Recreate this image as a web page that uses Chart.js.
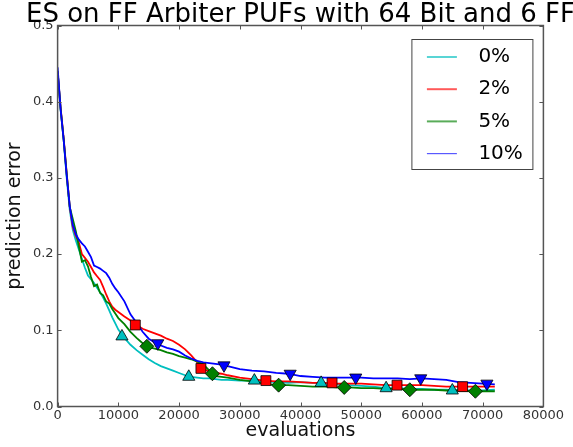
<!DOCTYPE html>
<html>
<head>
<meta charset="utf-8">
<title>ES on FF Arbiter PUFs</title>
<script src="https://cdn.jsdelivr.net/npm/chart.js@4.4.0/dist/chart.umd.min.js"></script>
<style>
  html, body { margin: 0; padding: 0; background: #fff; }
  #wrap { width: 573px; height: 447px; }
</style>
</head>
<body>
<div id="wrap"><canvas id="pufChart" width="573" height="447"></canvas></div>
<script>
// evaluations (x) shared by all four curves
const evaluations = [
    0, 500, 1000, 1500, 2000, 2500, 3000, 3500, 4000, 4500, 5000, 5500, 6000, 6500, 7000, 7500, 8000, 8500, 9000, 9500, 10000,
    11000, 12000, 13000, 14000, 15000, 16000, 17000, 18000, 19000, 20000, 21000, 22000, 23000, 24000, 25000, 26000, 27000, 28000,
    30000, 32000, 34000, 36000, 38000, 40000, 42000, 44000, 46000, 48000, 50000, 52000, 54000, 56000, 58000, 60000, 62000, 64000, 66000, 68000, 70000, 72000
];

const seriesLabels = ['0%', '2%', '5%', '10%'];
const chartTitle = 'ES on FF Arbiter PUFs with 64 Bit and 6 FF';

// prediction error per noise level
const error0 = [
    0.440, 0.390, 0.350, 0.300, 0.258, 0.232, 0.218, 0.206, 0.194, 0.182, 0.172, 0.167, 0.162, 0.156, 0.150, 0.143, 0.135, 0.126, 0.117, 0.109, 0.101,
    0.090, 0.081, 0.074, 0.068, 0.062, 0.057, 0.053, 0.050, 0.047, 0.044, 0.041, 0.039, 0.038, 0.037, 0.037, 0.036, 0.035, 0.035,
    0.034, 0.034, 0.033, 0.032, 0.031, 0.032, 0.031, 0.030, 0.029, 0.028, 0.027, 0.026, 0.024, 0.024, 0.023, 0.023, 0.022, 0.022, 0.021, 0.021, 0.021, 0.022
];
const error2 = [
    0.440, 0.392, 0.352, 0.306, 0.262, 0.236, 0.224, 0.215, 0.200, 0.195, 0.190, 0.183, 0.176, 0.171, 0.166, 0.157, 0.147, 0.138, 0.131, 0.127, 0.124,
    0.118, 0.113, 0.107, 0.102, 0.099, 0.096, 0.093, 0.089, 0.086, 0.081, 0.075, 0.067, 0.058, 0.049, 0.046, 0.044, 0.043, 0.041,
    0.038, 0.036, 0.034, 0.033, 0.033, 0.032, 0.031, 0.031, 0.030, 0.030, 0.030, 0.029, 0.028, 0.028, 0.028, 0.028, 0.027, 0.026, 0.026, 0.026, 0.026, 0.026
];
const error5 = [
    0.440, 0.390, 0.350, 0.305, 0.262, 0.246, 0.230, 0.210, 0.190, 0.192, 0.184, 0.170, 0.158, 0.160, 0.149, 0.146, 0.138, 0.135, 0.128, 0.122, 0.116,
    0.108, 0.098, 0.090, 0.083, 0.078, 0.076, 0.074, 0.071, 0.069, 0.066, 0.064, 0.062, 0.059, 0.055, 0.047, 0.040, 0.039, 0.038,
    0.035, 0.033, 0.030, 0.028, 0.028, 0.027, 0.026, 0.026, 0.025, 0.025, 0.024, 0.024, 0.023, 0.023, 0.022, 0.022, 0.022, 0.021, 0.021, 0.020, 0.020, 0.020
];
const error10 = [
    0.445, 0.390, 0.350, 0.303, 0.263, 0.238, 0.226, 0.219, 0.214, 0.210, 0.203, 0.196, 0.185, 0.183, 0.181, 0.178, 0.175, 0.169, 0.161, 0.155, 0.150,
    0.138, 0.121, 0.110, 0.098, 0.089, 0.084, 0.080, 0.077, 0.075, 0.072, 0.067, 0.063, 0.060, 0.058, 0.057, 0.056, 0.055, 0.053,
    0.049, 0.047, 0.046, 0.044, 0.043, 0.040, 0.039, 0.038, 0.038, 0.038, 0.038, 0.037, 0.037, 0.037, 0.036, 0.037, 0.036, 0.035, 0.032, 0.031, 0.030, 0.029
];

// marker positions (every ~10800 evaluations, shifted per curve)
const marks0X = [10600, 21600, 32400, 43400, 54100, 65000];
const marks0Y = [0.092, 0.039, 0.034, 0.031, 0.024, 0.021];
const marks2X = [12800, 23600, 34300, 45200, 55900, 66700];
const marks2Y = [0.107, 0.050, 0.034, 0.031, 0.028, 0.026];
const marks5X = [14700, 25500, 36400, 47200, 58000, 68800];
const marks5Y = [0.079, 0.043, 0.028, 0.025, 0.022, 0.020];
const marks10X = [16500, 27400, 38300, 49100, 59800, 70700];
const marks10Y = [0.083, 0.054, 0.043, 0.038, 0.037, 0.030];

const xTicks = [0, 10000, 20000, 30000, 40000, 50000, 60000, 70000, 80000];
const yTicks = [0.0, 0.1, 0.2, 0.3, 0.4, 0.5];

const colors = ['#00bfbf', '#ff0000', '#008000', '#0000ff'];
const FONT = "'DejaVu Sans', 'Liberation Sans', sans-serif";

function toPoints(xs, ys) {
    return xs.map((x, i) => ({ x: x, y: ys[i] }));
}

function lineSet(label, ys, color, order) {
    return {
        label: label,
        data: toPoints(evaluations, ys),
        borderColor: color,
        backgroundColor: color,
        borderWidth: 1.8,
        pointRadius: 0,
        tension: 0,
        fill: false,
        order: order
    };
}

function markerSet(xs, ys, color, style, radius, rotation, order) {
    return {
        type: 'scatter',
        label: 'markers',
        data: toPoints(xs, ys),
        showLine: false,
        pointStyle: style,
        pointRotation: rotation,
        pointRadius: radius,
        pointHoverRadius: radius,
        pointBackgroundColor: color,
        pointBorderColor: '#000',
        pointBorderWidth: 0.8,
        order: order
    };
}

// title centred over the axes (matplotlib style), not over the canvas
const titlePlugin = {
    id: 'axesTitle',
    afterDraw(chart) {
        const { ctx, chartArea: a } = chart;
        ctx.save();
        ctx.font = '26px ' + FONT;
        ctx.fillStyle = '#000';
        ctx.textAlign = 'center';
        ctx.textBaseline = 'alphabetic';
        ctx.fillText(chartTitle, (a.left + a.right) / 2, 22);
        ctx.restore();
    }
};

// box around the axes with inward ticks on all four sides
const framePlugin = {
    id: 'frame',
    afterDatasetsDraw(chart) {
        const { ctx, chartArea: a, scales: { x, y } } = chart;
        ctx.save();
        ctx.strokeStyle = '#555';
        ctx.lineWidth = 1.5;
        ctx.strokeRect(a.left, a.top, a.right - a.left, a.bottom - a.top);
        ctx.lineWidth = 1;
        ctx.beginPath();
        xTicks.forEach(v => {
            const px = Math.round(x.getPixelForValue(v)) + 0.5;
            ctx.moveTo(px, a.bottom); ctx.lineTo(px, a.bottom - 4);
            ctx.moveTo(px, a.top); ctx.lineTo(px, a.top + 4);
        });
        yTicks.forEach(v => {
            const py = Math.round(y.getPixelForValue(v)) + 0.5;
            ctx.moveTo(a.left, py); ctx.lineTo(a.left + 4, py);
            ctx.moveTo(a.right, py); ctx.lineTo(a.right - 4, py);
        });
        ctx.stroke();
        ctx.restore();
    }
};

// legend box in the upper right corner, like matplotlib
const legendPlugin = {
    id: 'boxLegend',
    afterDraw(chart) {
        const ctx = chart.ctx;
        const a = chart.chartArea;
        const boxRight = a.right - 11;
        const boxLeft = boxRight - 121;
        const boxTop = a.top + 13.5;
        const rowH = 32.2;
        ctx.save();
        ctx.fillStyle = '#fff';
        ctx.strokeStyle = '#444';
        ctx.lineWidth = 1;
        ctx.fillRect(boxLeft, boxTop, 121, 130);
        ctx.strokeRect(boxLeft + 0.5, boxTop + 0.5, 121, 130);
        ctx.font = '20px ' + FONT;
        ctx.textBaseline = 'middle';
        ctx.textAlign = 'left';
        seriesLabels.forEach((lbl, i) => {
            const yy = boxTop + 18 + i * rowH;
            ctx.globalAlpha = 0.65;
            ctx.strokeStyle = colors[i];
            ctx.lineWidth = i === 3 ? 1.2 : 2;
            ctx.beginPath();
            ctx.moveTo(boxLeft + 15.5, yy);
            ctx.lineTo(boxLeft + 45.5, yy);
            ctx.stroke();
            ctx.globalAlpha = 1;
            ctx.fillStyle = '#000';
            ctx.fillText(lbl, boxLeft + 67, yy);
        });
        ctx.restore();
    }
};

const ctx = document.getElementById('pufChart').getContext('2d');

const pufChart = new Chart(ctx, {
    type: 'line',
    data: {
        datasets: [
            lineSet(seriesLabels[0], error0, colors[0], 8),
            lineSet(seriesLabels[1], error2, colors[1], 7),
            lineSet(seriesLabels[2], error5, colors[2], 6),
            lineSet(seriesLabels[3], error10, colors[3], 5),
            markerSet(marks0X, marks0Y, colors[0], 'triangle', 7, 0, 4),
            markerSet(marks2X, marks2Y, colors[1], 'rect', 7, 0, 3),
            markerSet(marks5X, marks5Y, colors[2], 'rectRot', 7, 0, 2),
            markerSet(marks10X, marks10Y, colors[3], 'triangle', 7, 180, 1)
        ]
    },
    options: {
        responsive: false,
        animation: false,
        devicePixelRatio: 1,
        layout: {
            padding: { left: 0, right: 29.6, top: 25.5, bottom: 0 }
        },
        scales: {
            x: {
                type: 'linear',
                min: 0,
                max: 80000,
                afterBuildTicks: function(scale) {
                    scale.ticks = xTicks.map(v => ({ value: v }));
                },
                afterFit: function(scale) {
                    scale.height = 40.5;
                },
                ticks: {
                    padding: 1,
                    maxRotation: 0,
                    color: '#333',
                    font: { family: FONT, size: 13 },
                    callback: function(value) {
                        return String(value);
                    }
                },
                grid: { display: false, drawTicks: false },
                border: { display: false },
                title: {
                    display: true,
                    text: 'evaluations',
                    color: '#111',
                    font: { family: FONT, size: 19 },
                    padding: { top: 0, bottom: 4.2 }
                }
            },
            y: {
                min: 0,
                max: 0.5,
                afterBuildTicks: function(scale) {
                    scale.ticks = yTicks.map(v => ({ value: v }));
                },
                afterFit: function(scale) {
                    scale.width = 57.6;
                },
                ticks: {
                    padding: 4,
                    color: '#333',
                    font: { family: FONT, size: 13 },
                    callback: function(value) {
                        return value.toFixed(1);
                    }
                },
                grid: { display: false, drawTicks: false },
                border: { display: false },
                title: {
                    display: true,
                    text: 'prediction error',
                    color: '#111',
                    font: { family: FONT, size: 19 },
                    padding: { top: 3.5, bottom: 0 }
                }
            }
        },
        plugins: {
            legend: { display: false },
            tooltip: { enabled: false },
            title: { display: false }
        }
    },
    plugins: [framePlugin, legendPlugin, titlePlugin]
});
</script>
</body>
</html>
